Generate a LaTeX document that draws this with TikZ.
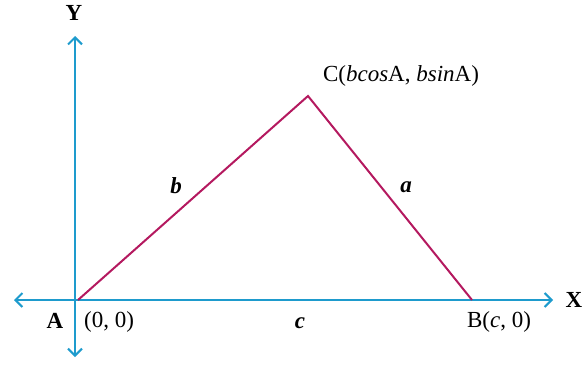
\documentclass[tikz,border=0pt]{standalone}
\usepackage{fontspec}
\setmainfont{Liberation Serif}
\usetikzlibrary{arrows.meta}
\definecolor{axiscol}{RGB}{30,155,205}
\definecolor{sidecol}{RGB}{180,25,95}
\begin{document}
\begin{tikzpicture}[x=1pt,y=-1pt,
  axis/.style={draw=axiscol,line width=2.2pt,-{Straight Barb[length=7pt,width=14pt,line width=2pt]}},
  side/.style={draw=sidecol,line width=2pt},
  lbl/.style={font=\fontsize{23}{25}\selectfont,inner sep=0pt},
  blbl/.style={font=\fontsize{23}{25}\selectfont\bfseries,inner sep=0pt},
  pt/.style={inner sep=0pt,minimum size=0pt}]
\useasboundingbox (0,0) rectangle (588,364);
\coordinate (O) at (75,300);
\coordinate (xr) at (553,300);
\coordinate (xl) at (14,300);
\coordinate (yt) at (75,36);
\coordinate (yb) at (75,357);
\node[pt] (A) at (78,300) {};
\node[pt] (B) at (472,300) {};
\node[pt] (C) at (308,96) {};
\draw[axis] (O) -- (xr);
\draw[axis] (O) -- (xl);
\draw[axis] (O) -- (yt);
\draw[axis] (O) -- (yb);
\draw[side] (A.center) -- (C.center) -- (B.center);
\node[blbl] (Ylbl) at (74,13) {Y};
\node[blbl] (Xlbl) at (574,300) {X};
\node[lbl] (Clbl) at (401,76) {C(\textit{bcos}A, \textit{bsin}A)};
\node[blbl] (blbl) at (176,186) {\textit{b}};
\node[blbl] (albl) at (406,187) {\textit{a}};
\node[blbl] (clbl) at (300,323) {\textit{c}};
\node[blbl] (Albl) at (55,321) {A};
\node[lbl] (Olbl) at (109,322) {(0, 0)};
\node[lbl] (Blbl) at (499,322) {B(\textit{c}, 0)};
\end{tikzpicture}
\end{document}
